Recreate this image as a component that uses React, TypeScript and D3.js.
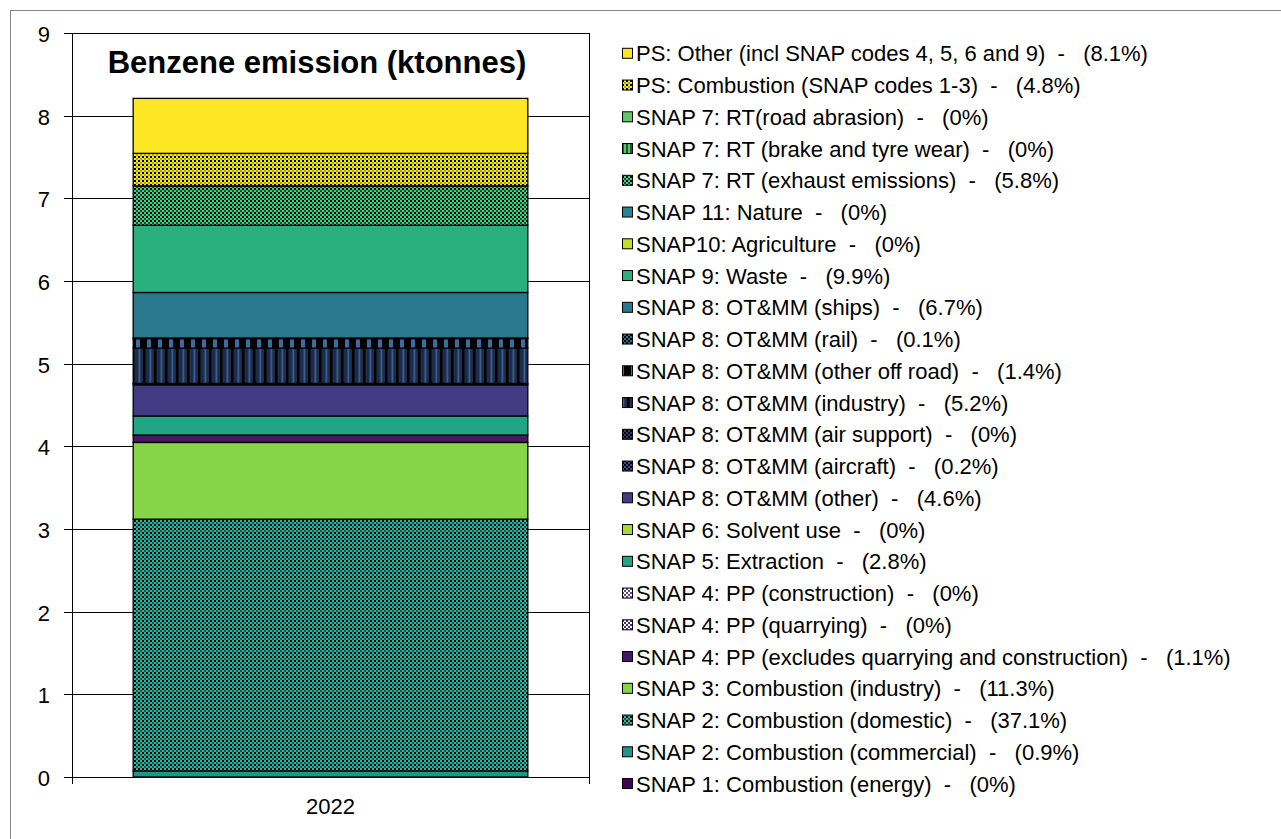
import { select, scaleBand, scaleLinear, stack } from "d3";
import React, { useEffect, useRef } from "react";

const categories = ["2022"];

// emission sources, bottom of the stack first
const sources = [
  "SNAP 1: Combustion (energy)",
  "SNAP 2: Combustion (commercial)",
  "SNAP 2: Combustion (domestic)",
  "SNAP 3: Combustion (industry)",
  "SNAP 4: PP (excludes quarrying and construction)",
  "SNAP 4: PP (quarrying)",
  "SNAP 4: PP (construction)",
  "SNAP 5: Extraction",
  "SNAP 6: Solvent use",
  "SNAP 8: OT&MM (other)",
  "SNAP 8: OT&MM (aircraft)",
  "SNAP 8: OT&MM (air support)",
  "SNAP 8: OT&MM (industry)",
  "SNAP 8: OT&MM (other off road)",
  "SNAP 8: OT&MM (rail)",
  "SNAP 8: OT&MM (ships)",
  "SNAP 9: Waste",
  "SNAP10: Agriculture",
  "SNAP 11: Nature",
  "SNAP 7: RT (exhaust emissions)",
  "SNAP 7: RT (brake and tyre wear)",
  "SNAP 7: RT(road abrasion)",
  "PS: Combustion (SNAP codes 1-3)",
  "PS: Other (incl SNAP codes 4, 5, 6 and 9)",
];

// ktonnes in 2022, same order as sources
const values2022 = [
  0, 0.074, 3.045, 0.928, 0.09, 0, 0, 0.23, 0, 0.378, 0.016, 0, 0.427, 0.115,
  0.008, 0.55, 0.813, 0, 0, 0.476, 0, 0, 0.394, 0.665,
];

const shares = [
  "0%", "0.9%", "37.1%", "11.3%", "1.1%", "0%", "0%", "2.8%", "0%", "4.6%",
  "0.2%", "0%", "5.2%", "1.4%", "0.1%", "6.7%", "9.9%", "0%", "0%", "5.8%",
  "0%", "0%", "4.8%", "8.1%",
];

const yTicks = [0, 1, 2, 3, 4, 5, 6, 7, 8, 9];

const fills = [
  "#440154",
  "#1f968b",
  "url(#p-domestic)",
  "#86d549",
  "#481668",
  "url(#p-quarry)",
  "url(#p-constr)",
  "#21a585",
  "#a5db36",
  "#443983",
  "url(#p-aircraft)",
  "url(#p-airsup)",
  "url(#p-industry)",
  "url(#p-offroad)",
  "url(#p-rail)",
  "#29788e",
  "#2ab07f",
  "#c2df23",
  "#23888e",
  "url(#p-exhaust)",
  "url(#p-brake)",
  "#5ec962",
  "url(#p-pscomb)",
  "#fde725",
];

const FONT = "'Liberation Sans', Arial, sans-serif";

const App = () => {
  const chartRef = useRef<SVGSVGElement>(null);

  useEffect(() => {
    if (!chartRef.current) return;
    const svg = select(chartRef.current);
    svg.selectAll("*").remove();

    const width = 1281;
    const height = 839;
    const plot = { left: 72, right: 589, top: 33, bottom: 777 };

    // patterns
    const defs = svg.append("defs");
    // 2px checker: light squares, black / dark squares on alternate rows
    const checker3 = (id: string, a: string, b: string, c: string) => {
      const p = defs
        .append("pattern")
        .attr("id", id)
        .attr("patternUnits", "userSpaceOnUse")
        .attr("width", 4)
        .attr("height", 4);
      const grid = ["ab", "ca"];
      grid.forEach((row, j) =>
        row.split("").forEach((k, i) =>
          p.append("rect")
            .attr("x", i * 2)
            .attr("y", j * 2)
            .attr("width", 2)
            .attr("height", 2)
            .attr("fill", k === "b" ? b : k === "c" ? c : a)
        )
      );
    };
    const stripes = (
      id: string,
      w: number,
      bg: string,
      bands: [number, number, string][]
    ) => {
      const p = defs
        .append("pattern")
        .attr("id", id)
        .attr("patternUnits", "userSpaceOnUse")
        .attr("width", w)
        .attr("height", 4);
      p.append("rect").attr("width", w).attr("height", 4).attr("fill", bg);
      bands.forEach(([x, bw, c]) =>
        p.append("rect").attr("x", x).attr("width", bw).attr("height", 4).attr("fill", c)
      );
    };
    const checker = (id: string, a: string, b: string) => {
      const p = defs
        .append("pattern")
        .attr("id", id)
        .attr("patternUnits", "userSpaceOnUse")
        .attr("width", 4)
        .attr("height", 4);
      p.append("rect").attr("width", 4).attr("height", 4).attr("fill", a);
      p.append("rect").attr("width", 2).attr("height", 2).attr("fill", b);
      p.append("rect").attr("x", 2).attr("y", 2).attr("width", 2).attr("height", 2).attr("fill", b);
    };

    checker3("p-domestic", "#27b8a4", "#000000", "#17564f");
    checker3("p-exhaust", "#3fcf80", "#000000", "#1b4d33");
    checker3("p-pscomb", "#f3e61e", "#000000", "#aaa61a");
    stripes("p-industry", 11, "#1e2c49", [
      [0, 2.5, "#000000"],
      [6.5, 1.8, "#3a5d93"],
    ]);
    stripes("p-offroad", 11, "#000000", [[4, 4, "#3d6ba6"]]);
    stripes("p-brake", 4, "#56c667", [[2, 2, "#1f5a36"]]);
    checker("p-rail", "#2a7190", "#000000");
    checker("p-airsup", "#2c3d70", "#000000");
    checker("p-aircraft", "#3c4f95", "#000000");
    checker("p-constr", "#5a4a9a", "#ffffff");
    checker("p-quarry", "#4a2c7c", "#ffffff");

    // chart frame
    svg
      .append("rect")
      .attr("x", 10.5)
      .attr("y", 10.5)
      .attr("width", width + 100)
      .attr("height", height + 100)
      .attr("fill", "#fff")
      .attr("stroke", "#868686");

    // x, y scales
    const x = scaleBand()
      .domain(categories)
      .range([plot.left, plot.right])
      .paddingInner(0)
      .paddingOuter(0.155);
    const y = scaleLinear().domain([0, 9]).range([plot.bottom, plot.top]);

    const g = svg.append("g");

    // gridlines + ticks
    yTicks.forEach((t) => {
      const yy = Math.round(y(t)) + 0.5;
      g.append("line")
        .attr("x1", plot.left - 8)
        .attr("x2", plot.right)
        .attr("y1", yy)
        .attr("y2", yy)
        .attr("stroke", "#000");
      g.append("text")
        .attr("x", 50)
        .attr("y", yy + 8)
        .attr("text-anchor", "end")
        .attr("font-family", FONT)
        .attr("font-size", 22)
        .text(t);
    });

    // plot area border
    g.append("rect")
      .attr("x", plot.left + 0.5)
      .attr("y", plot.top + 0.5)
      .attr("width", plot.right - plot.left)
      .attr("height", plot.bottom - plot.top)
      .attr("fill", "none")
      .attr("stroke", "#000");

    // category ticks
    [plot.left, plot.right].forEach((xx) =>
      g.append("line")
        .attr("x1", xx + 0.5)
        .attr("x2", xx + 0.5)
        .attr("y1", plot.bottom)
        .attr("y2", plot.bottom + 7)
        .attr("stroke", "#000")
    );

    // stacked bar
    const rows = categories.map((c) => {
      const r: Record<string, number | string> = { cat: c };
      sources.forEach((s, i) => (r[s] = values2022[i]));
      return r;
    });
    const series = stack<any>().keys(sources)(rows);
    series.forEach((s, i) => {
      g.selectAll(null)
        .data(s)
        .enter()
        .append("rect")
        .attr("x", (d) => x(d.data.cat as string) || 0)
        .attr("y", (d) => y(d[1]))
        .attr("width", x.bandwidth())
        .attr("height", (d) => y(d[0]) - y(d[1]))
        .attr("fill", fills[i])
        .attr("stroke", "#000")
        .attr("stroke-width", 1.3);
    });

    // category label
    categories.forEach((c) =>
      g.append("text")
        .attr("x", (x(c) || 0) + x.bandwidth() / 2)
        .attr("y", 814)
        .attr("text-anchor", "middle")
        .attr("font-family", FONT)
        .attr("font-size", 22)
        .text(c)
    );

    // title
    g.append("text")
      .attr("x", 317)
      .attr("y", 73)
      .attr("text-anchor", "middle")
      .attr("font-family", FONT)
      .attr("font-size", 31)
      .attr("font-weight", "bold")
      .text("Benzene emission (ktonnes)");

    // legend, top of stack first
    const legend = svg.append("g");
    const order = sources.map((_, i) => sources.length - 1 - i);
    order.forEach((idx, row) => {
      const cy = 53.3 + row * 31.75;
      legend
        .append("rect")
        .attr("x", 622.5)
        .attr("y", cy - 5)
        .attr("width", 10)
        .attr("height", 10)
        .attr("fill", fills[idx])
        .attr("stroke", "#000");
      legend
        .append("text")
        .attr("x", 636)
        .attr("y", cy + 8)
        .attr("font-family", FONT)
        .attr("font-size", 22)
        .style("white-space", "pre")
        .text(`${sources[idx]}  -   (${shares[idx]})`);
    });
  }, []);

  return (
    <svg
      ref={chartRef}
      width={1281}
      height={839}
      style={{ position: "absolute", left: 0, top: 0, display: "block" }}
    ></svg>
  );
};

export default App;
